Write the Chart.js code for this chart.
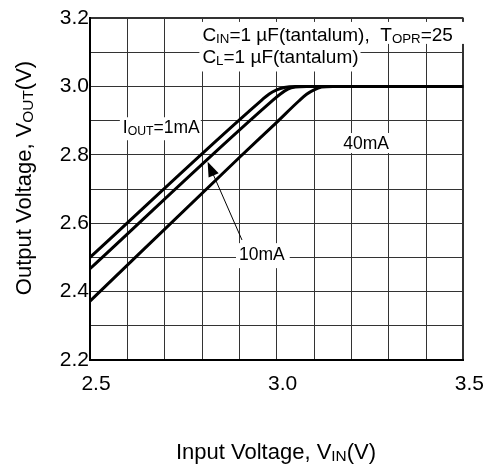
<!DOCTYPE html>
<html>
<head>
<meta charset="utf-8">
<script src="https://cdn.jsdelivr.net/npm/chart.js@4.4.1/dist/chart.umd.min.js"></script>
<style>
  html, body { margin: 0; padding: 0; background: #fff; }
</style>
</head>
<body>
<canvas id="chart" width="490" height="465"></canvas>
<script>
// input voltage (V) / output voltage (V) for each load current
const vin1mA = [2.5, 2.96, 2.98, 3.0, 3.02, 3.05, 3.5]
const vout1mA = [2.5, 2.96, 2.978, 2.99, 2.997, 3.0, 3.0]
const vin10mA = [2.5, 2.99, 3.01, 3.03, 3.05, 3.08, 3.5]
const vout10mA = [2.467, 2.96, 2.978, 2.992, 2.998, 3.0, 3.0]
const vin40mA = [2.5, 2.9, 3.0, 3.06, 3.08, 3.1, 3.12, 3.15, 3.5]
const vout40mA = [2.372, 2.792, 2.895, 2.958, 2.977, 2.99, 2.998, 3.0, 3.0]
const seriesLabels = ['1mA', '10mA', '40mA']

const FONT = "'Liberation Sans', Arial, sans-serif"

const toPoints = (xs, ys) => xs.map((x, i) => ({ x: x, y: ys[i] }))

// text labels on the plot, anchored in data units
const notes = [
    { parts: [['C'], ['IN', 1], ['=1 µF(tantalum),  T'], ['OPR', 1], ['=25']], x: 2.801, y: 3.133, size: 19, box: [5, 12, 19, 3] },
    { parts: [['C'], ['L', 1], ['=1 µF(tantalum)']], x: 2.801, y: 3.067, size: 19, box: [3, 2, 20, 8] },
    { parts: [['I'], ['OUT', 1], ['=1mA']], x: 2.588, y: 2.863, size: 17.5, box: [3, 1, 16, 7] },
    { parts: [['40mA']], x: 3.178, y: 2.817, size: 17.5, box: [3, 3, 16, 4] },
    { parts: [['10mA']], x: 2.899, y: 2.492, size: 17.5, box: [3, 5, 17, 8] }
]
const arrowFrom = [2.907, 2.551]
const arrowTo = [2.815, 2.780]

function drawRich(ctx, parts, x, baseline, size, measureOnly) {
    let cx = x
    parts.forEach(p => {
        const s = p[1] ? size * 0.7 : size
        ctx.font = s + 'px ' + FONT
        if (!measureOnly) ctx.fillText(p[0], cx, baseline + (p[1] ? 2 : 0))
        cx += ctx.measureText(p[0]).width
    })
    return cx - x
}

const overlay = {
    id: 'overlay',
    afterDraw(chart) {
        const ctx = chart.ctx
        const xs = chart.scales.x
        const ys = chart.scales.y
        ctx.save()
        ctx.textBaseline = 'alphabetic'
        ctx.textAlign = 'left'

        // white boxes behind the labels, then the labels
        notes.forEach(n => {
            const px = xs.getPixelForValue(n.x)
            const py = ys.getPixelForValue(n.y)
            const w = drawRich(ctx, n.parts, px, py, n.size, true)
            ctx.fillStyle = '#fff'
            ctx.fillRect(px - n.box[0], py - n.box[2], w + n.box[0] + n.box[1], n.box[2] + n.box[3])
        })
        ctx.fillStyle = '#000'
        notes.forEach(n => {
            drawRich(ctx, n.parts, xs.getPixelForValue(n.x), ys.getPixelForValue(n.y), n.size)
        })

        // arrow pointing at the 10mA curve
        const x1 = xs.getPixelForValue(arrowFrom[0]), y1 = ys.getPixelForValue(arrowFrom[1])
        const x2 = xs.getPixelForValue(arrowTo[0]), y2 = ys.getPixelForValue(arrowTo[1])
        const ang = Math.atan2(y2 - y1, x2 - x1)
        ctx.strokeStyle = '#000'
        ctx.lineWidth = 1
        ctx.beginPath()
        ctx.moveTo(x1, y1)
        ctx.lineTo(x2 - 10 * Math.cos(ang), y2 - 10 * Math.sin(ang))
        ctx.stroke()
        ctx.beginPath()
        ctx.moveTo(x2, y2)
        ctx.lineTo(x2 - 15 * Math.cos(ang) + 5.5 * Math.sin(ang), y2 - 15 * Math.sin(ang) - 5.5 * Math.cos(ang))
        ctx.lineTo(x2 - 15 * Math.cos(ang) - 5.5 * Math.sin(ang), y2 - 15 * Math.sin(ang) + 5.5 * Math.cos(ang))
        ctx.closePath()
        ctx.fill()

        // axis titles with subscripts
        const xTitle = [['Input Voltage, V'], ['IN', 1], ['(V)']]
        const wx = drawRich(ctx, xTitle, 0, 0, 22, true)
        drawRich(ctx, xTitle, 276 - wx / 2, 459, 22)

        const yTitle = [['Output Voltage, V'], ['OUT', 1], ['(V)']]
        const wy = drawRich(ctx, yTitle, 0, 0, 22, true)
        ctx.translate(31, 178)
        ctx.rotate(-Math.PI / 2)
        drawRich(ctx, yTitle, -wy / 2, 0, 22)
        ctx.restore()
    }
}

const lineStyle = {
    borderColor: '#000',
    borderWidth: 3,
    pointRadius: 0,
    fill: false,
    cubicInterpolationMode: 'monotone'
}

new Chart(document.getElementById('chart'), {
    type: 'line',
    data: {
        datasets: [
            { ...lineStyle, label: seriesLabels[0], data: toPoints(vin1mA, vout1mA) },
            { ...lineStyle, label: seriesLabels[1], data: toPoints(vin10mA, vout10mA) },
            { ...lineStyle, label: seriesLabels[2], data: toPoints(vin40mA, vout40mA) }
        ]
    },
    options: {
        responsive: false,
        animation: false,
        devicePixelRatio: 1,
        layout: { padding: { left: 0, top: 18, right: 24, bottom: 0 } },
        plugins: {
            legend: { display: false },
            tooltip: { enabled: false }
        },
        scales: {
            x: {
                type: 'linear',
                min: 2.5,
                max: 3.5,
                afterFit: s => { s.height = 105 },
                ticks: {
                    stepSize: 0.1,
                    autoSkip: false,
                    maxRotation: 0,
                    padding: 12,
                    labelOffset: 6,
                    color: '#000',
                    font: { family: FONT, size: 21 },
                    callback: v => Math.round(v * 10) % 5 === 0 ? v.toFixed(1) : ''
                },
                grid: {
                    color: '#333',
                    lineWidth: c => (c.tick && Math.abs(c.tick.value - 3.5) < 1e-6) ? 2 : 1,
                    drawTicks: false
                },
                border: { color: '#000', width: 2 }
            },
            y: {
                type: 'linear',
                min: 2.2,
                max: 3.2,
                afterFit: s => { s.width = 90 },
                ticks: {
                    stepSize: 0.1,
                    autoSkip: false,
                    padding: 1,
                    color: '#000',
                    font: { family: FONT, size: 21 },
                    callback: v => Math.round(v * 10) % 2 === 0 ? v.toFixed(1) : ''
                },
                grid: {
                    color: '#333',
                    lineWidth: c => (c.tick && Math.abs(c.tick.value - 3.2) < 1e-6) ? 2 : 1,
                    drawTicks: false
                },
                border: { color: '#000', width: 2 }
            }
        }
    },
    plugins: [overlay]
})
</script>
</body>
</html>
